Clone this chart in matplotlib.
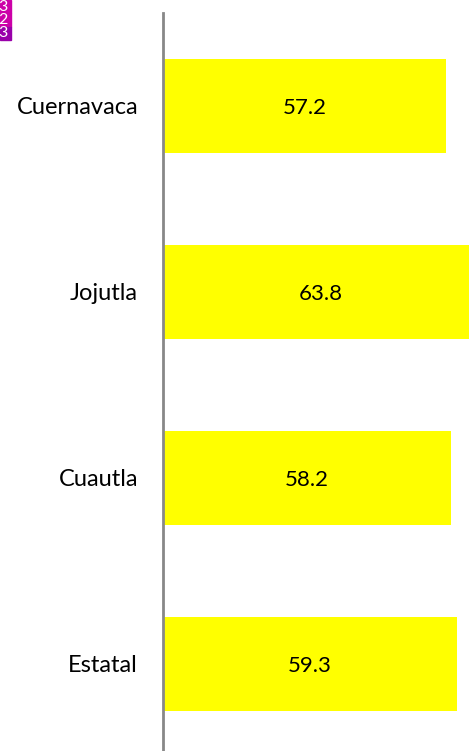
import matplotlib.pyplot as plt

# porcentaje por jurisdiccion
categorias = ['Cuernavaca', 'Jojutla', 'Cuautla', 'Estatal']
valores = [57.2, 63.8, 58.2, 59.3]

# recuadros de la leyenda (cortados en el borde)
leyenda_txt = ['3', '2', '3']
leyenda_col = ['#CC00A8', '#CC00A8', '#9900AA']

fig = plt.figure(figsize=(4.69, 7.51), dpi=100)
W, H = 469, 751
ax = fig.add_axes([163 / W, (751 - 757) / H, 346.5 / W, (757 - 13) / H])

pos = list(range(len(categorias)))
ax.barh(pos, valores, height=0.505, color='#FFFF00', zorder=2)
ax.set_xlim(0, 70)
ax.set_ylim(3.5, -0.5)

for p, v in zip(pos, valores):
    ax.text(v / 2, p + 0.01, f'{v:.1f}', ha='center', va='center',
            fontsize=16, family='Lato', color='black', zorder=3)

ax.set_yticks(pos)
ax.set_yticklabels(categorias, fontsize=17, family='Lato')
ax.tick_params(axis='y', length=0, pad=18)
ax.set_xticks([])
for s in ['top', 'right', 'bottom']:
    ax.spines[s].set_visible(False)
ax.spines['left'].set_color('#888888')
ax.spines['left'].set_linewidth(2)
ax.spines['left'].set_zorder(4)

# leyenda en la esquina
for i, (t, c) in enumerate(zip(leyenda_txt, leyenda_col)):
    y0 = 1 - (i + 1) * 13.3 / H
    fig.patches.append(plt.Rectangle((0, y0), 11 / W, 13.3 / H,
                                     transform=fig.transFigure, color=c))
    fig.text(8 / W, y0 + 6.6 / H, t, ha='right', va='center',
             fontsize=11.5, color='white', family='Lato')

fig.savefig('out.png', dpi=100)
